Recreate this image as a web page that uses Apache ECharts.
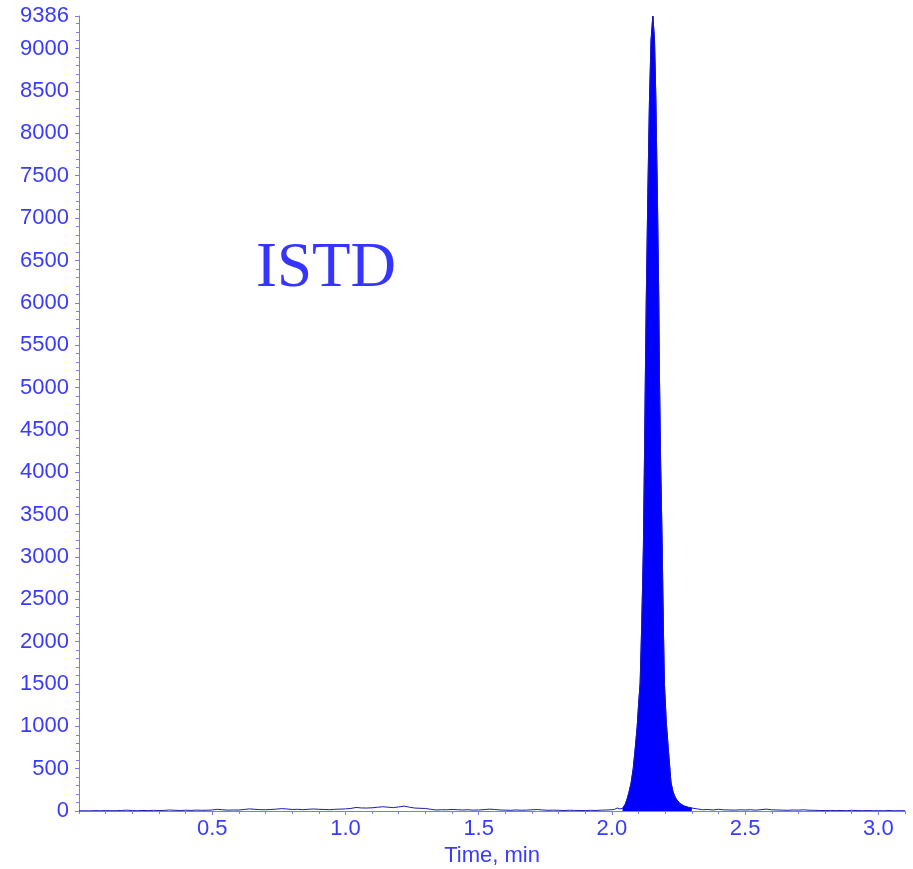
<!DOCTYPE html>
<html>
<head>
<meta charset="utf-8">
<script src="https://cdn.jsdelivr.net/npm/echarts@6/dist/echarts.min.js"></script>
<style>html,body{margin:0;padding:0;background:#fff}#c{width:913px;height:869px}</style>
</head>
<body>
<div id="c"></div>
<script>
// Retention time (min)
const times = [
  0.00,0.02,0.04,0.06,0.08,0.10,0.12,0.14,0.16,0.18,0.20,0.22,0.24,0.26,0.28,0.30,0.32,0.34,0.36,0.38,
  0.40,0.42,0.44,0.46,0.48,0.50,0.52,0.54,0.56,0.58,0.60,0.62,0.64,0.66,0.68,0.70,0.72,0.74,0.76,0.78,
  0.80,0.82,0.84,0.86,0.88,0.90,0.92,0.94,0.96,0.98,1.00,1.02,1.04,1.06,1.08,1.10,1.12,1.14,1.16,1.18,
  1.20,1.22,1.24,1.26,1.28,1.30,1.32,1.34,1.36,1.38,1.40,1.42,1.44,1.46,1.48,1.50,1.52,1.54,1.56,1.58,
  1.60,1.62,1.64,1.66,1.68,1.70,1.72,1.74,1.76,1.78,1.80,1.82,1.84,1.86,1.88,1.90,1.92,1.94,1.96,1.98,
  2.00,2.01,2.02,2.03,2.04,2.05,2.056,2.064,2.072,2.080,2.087,2.095,2.100,2.106,2.112,2.118,2.122,2.126,2.129,2.135,
  2.141,2.147,2.1536,2.160,2.165,2.171,2.176,2.178,2.183,2.189,2.193,2.197,2.204,2.212,2.218,2.222,2.230,2.238,2.244,2.255,
  2.27,2.29,2.30,
  2.32,2.34,2.36,2.38,2.40,2.42,2.44,2.46,2.48,2.50,2.52,2.54,2.56,2.58,2.60,2.62,2.64,2.66,2.68,2.70,
  2.72,2.74,2.76,2.78,2.80,2.82,2.84,2.86,2.88,2.90,2.92,2.94,2.96,2.98,3.00,3.02,3.04,3.06,3.08,3.10
];
// Intensity (counts)
const intensity = [
  2,3,2,4,3,5,3,4,6,10,5,4,6,5,8,6,7,12,8,6,
  9,7,10,8,9,12,20,14,10,12,11,18,25,20,16,15,18,22,28,24,
  18,20,16,20,24,20,18,15,20,22,25,30,42,36,35,38,44,50,45,40,
  48,58,45,35,32,30,20,12,15,14,18,15,12,15,10,12,16,22,18,12,
  10,8,12,9,10,14,18,12,8,10,8,6,9,7,6,5,8,6,10,12,
  15,20,35,25,30,80,130,220,330,500,720,1000,1250,1511,2200,3081,4100,5242,6033,7300,
  8394,9102,9386,9102,8394,7200,6033,5242,4100,3081,2200,1511,1050,720,480,330,220,160,130,90,
  60,40,35,
  25,15,18,12,20,14,12,10,14,12,15,10,16,22,14,12,10,8,12,10,
  14,9,8,6,5,7,5,6,4,8,5,4,6,3,4,3,5,3,4,3
];
// Integrated peak window (min)
const peakStart = 2.04;
const peakEnd = 2.30;
const yMax = 9386;
const xMax = 3.1;
const title = 'ISTD';
const xName = 'Time, min';

const labelColor = '#3a3aff';
const axisColor = '#7a7aff';
const chart = echarts.init(document.getElementById('c'), null, {renderer: 'canvas'});
const data = times.map((t, i) => [t, intensity[i]]);
const peakData = data.filter(d => d[0] >= peakStart && d[0] <= peakEnd);
const font = 'Liberation Sans, Arial, sans-serif';

chart.setOption({
  animation: false,
  grid: {left: 79, right: 8, top: 16, bottom: 58, containLabel: false, outerBoundsMode: 'none'},
  xAxis: [{
    type: 'value', min: 0, max: xMax, interval: 0.5,
    name: xName, nameLocation: 'middle', nameGap: 33,
    nameTextStyle: {color: labelColor, fontSize: 22, fontFamily: font},
    axisLine: {lineStyle: {color: axisColor, width: 1}},
    axisTick: {length: 4, lineStyle: {color: axisColor}},
    axisLabel: {color: labelColor, fontSize: 22, fontFamily: font, margin: 7,
      showMinLabel: false, showMaxLabel: false, formatter: v => v.toFixed(1)},
    splitLine: {show: false}
  }, {
    type: 'value', min: 0, max: xMax, interval: 0.1, position: 'bottom',
    axisLine: {show: false},
    axisTick: {length: 3, lineStyle: {color: axisColor}},
    axisLabel: {show: false}, splitLine: {show: false}
  }],
  yAxis: [{
    type: 'value', min: 0, max: yMax, interval: 500,
    axisLine: {show: true, lineStyle: {color: axisColor, width: 1}},
    axisTick: {show: true, length: 4, lineStyle: {color: axisColor}},
    axisLabel: {color: labelColor, fontSize: 22, fontFamily: font, margin: 10,
      formatter: v => String(Math.round(v))},
    splitLine: {show: false}
  }, {
    type: 'value', min: 0, max: yMax, interval: 100, position: 'left',
    axisLine: {show: false},
    axisTick: {show: true, length: 3, lineStyle: {color: axisColor}},
    axisLabel: {show: false}, splitLine: {show: false}
  }],
  series: [{
    type: 'line', data: peakData, xAxisIndex: 0, yAxisIndex: 0,
    showSymbol: false, symbol: 'none', sampling: null,
    lineStyle: {color: '#0000ff', width: 1},
    areaStyle: {color: '#0000ff', opacity: 1},
    itemStyle: {color: '#0000ff'}, z: 2
  }, {
    type: 'line', data: data, xAxisIndex: 0, yAxisIndex: 0,
    showSymbol: false, symbol: 'none', sampling: null,
    lineStyle: {color: '#1a1ab0', width: 1},
    itemStyle: {color: '#1a1ab0'}, z: 3
  }],
  graphic: [{
    type: 'text', left: 256, top: 238,
    style: {text: title, fontFamily: 'Liberation Serif, Times New Roman, serif', fontSize: 63, fill: '#3535ff'}
  }]
});
</script>
</body>
</html>
